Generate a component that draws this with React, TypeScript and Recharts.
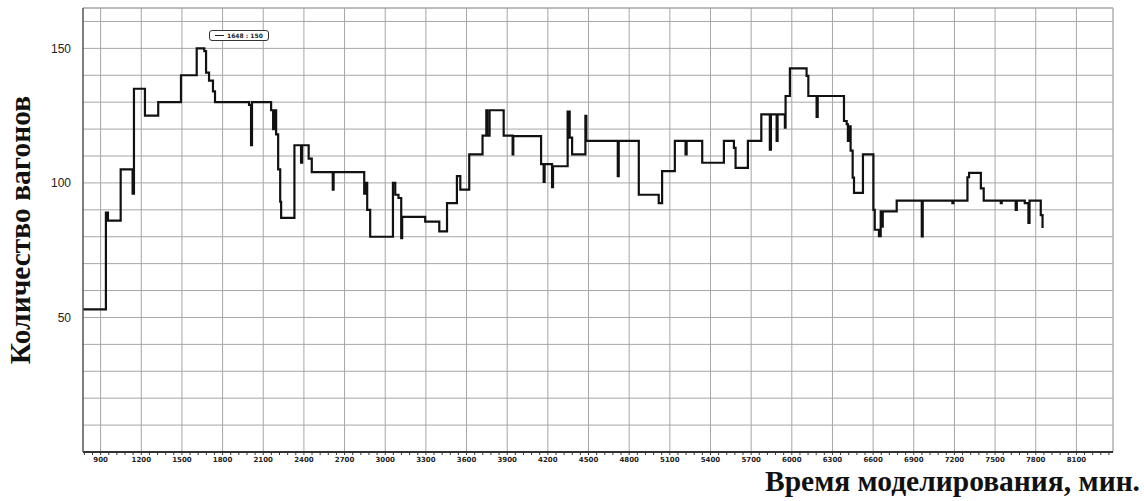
import { LineChart, Line, XAxis, YAxis, CartesianGrid, ReferenceLine, Legend } from "recharts";

// modelling time, min (each point starts a new step)
const times = [
  770, 939, 954, 1048, 1136, 1146, 1227, 1325, 1493, 1609, 1665, 1678, 1700, 1729, 1744,
  1995, 2010, 2017, 2158, 2173, 2180, 2195, 2210, 2225, 2232, 2330, 2379, 2387, 2435, 2458,
  2613, 2619, 2845, 2852, 2867, 2889, 3057, 3074, 3098, 3118, 3125, 3295, 3399, 3456, 3529,
  3554, 3620, 3718, 3746, 3753, 3770, 3874, 3940, 3945, 4150, 4169, 4176, 4231, 4238, 4346,
  4361, 4379, 4477, 4484, 4716, 4723, 4871, 5018, 5043, 5137, 5216, 5224, 5339, 5499, 5573,
  5585, 5676, 5775, 5838, 5846, 5888, 5895, 5949, 5954, 5986, 6109, 6122, 6183, 6191, 6385,
  6405, 6414, 6422, 6434, 6449, 6459, 6525, 6602, 6612, 6643, 6656, 6664, 6671, 6774, 6959,
  6966, 7185, 7193, 7296, 7308, 7395, 7416, 7542, 7549, 7652, 7660, 7719, 7746, 7754, 7837,
  7850,
];

// number of wagons
const wagons = [
  53, 89, 86, 105, 96, 135, 125, 130, 140, 150, 149, 141, 138, 134, 130,
  129, 114, 130, 127, 120, 127, 118, 105, 93, 87, 114, 107.5, 114, 109, 104,
  97.5, 104, 96, 100, 90, 80, 100, 95.6, 94.4, 79.5, 87.4, 85.6, 82, 92.5, 102.5,
  97.5, 110.6, 117.6, 127, 117.6, 127, 117.6, 110.6, 117.4, 107, 100.4, 107, 98.4, 106.2, 126.5,
  116.8, 110.6, 124.9, 115.6, 102.5, 115.6, 95.6, 92.5, 104.4, 115.6, 110.6, 115.6, 107.5, 115.6, 113,
  105.6, 115.6, 125.5, 112.4, 125.5, 115.6, 125.5, 120.5, 132.3, 142.6, 139.8, 132.3, 124.5, 132.3, 123,
  121.8, 115.6, 121, 112, 102, 96.3, 110.6, 90, 82.6, 80.2, 89.4, 83.7, 89.4, 93.4, 80.1,
  93.4, 92.5, 93.4, 102.1, 103.7, 98, 93.4, 92.5, 93.4, 90, 93.4, 92.5, 85.1, 93.4, 88,
  83.2,
];

const majorX = [900, 1200, 1500, 1800, 2100, 2400, 2700, 3000, 3300, 3600, 3900, 4200, 4500, 4800, 5100, 5400, 5700, 6000, 6300, 6600, 6900, 7200, 7500, 7800, 8100];
const minorX = [780, 840, 960, 1020, 1080, 1140, 1260, 1320, 1380, 1440, 1560, 1620, 1680, 1740, 1860, 1920, 1980, 2040, 2160, 2220, 2280, 2340, 2460, 2520, 2580, 2640, 2760, 2820, 2880, 2940, 3060, 3120, 3180, 3240, 3360, 3420, 3480, 3540, 3660, 3720, 3780, 3840, 3960, 4020, 4080, 4140, 4260, 4320, 4380, 4440, 4560, 4620, 4680, 4740, 4860, 4920, 4980, 5040, 5160, 5220, 5280, 5340, 5460, 5520, 5580, 5640, 5760, 5820, 5880, 5940, 6060, 6120, 6180, 6240, 6360, 6420, 6480, 6540, 6660, 6720, 6780, 6840, 6960, 7020, 7080, 7140, 7260, 7320, 7380, 7440, 7560, 7620, 7680, 7740, 7860, 7920, 7980, 8040, 8160, 8220, 8280, 8340];
const yGrid = [0, 10, 20, 30, 40, 50, 60, 70, 80, 90, 100, 110, 120, 130, 140, 150, 160];
const yLabels = [50, 100, 150];
const xDomain = [770, 8370];
const yDomain = [0, 165];

const data = times.map((t, i) => ({ t, v: wagons[i] }));
const allXTicks = [...majorX, ...minorX].sort((a, b) => a - b);

const titleFont = '"Liberation Serif", "Times New Roman", serif';

export default function App() {
  return (
    <div style={{ position: "absolute", left: 0, top: 0, width: 1144, height: 501, background: "#fff" }}>
      <LineChart width={1144} height={501} data={data} margin={{ top: 8, right: 31, left: 0, bottom: 0 }}>
        <CartesianGrid stroke="#a6a6a6" strokeWidth={1} vertical={false} horizontalValues={yGrid} />
        {majorX.map((x) => (
          <ReferenceLine key={x} x={x} stroke="#a6a6a6" strokeWidth={1} ifOverflow="visible" />
        ))}
        <ReferenceLine y={165} stroke="#a6a6a6" strokeWidth={1.5} />
        <ReferenceLine x={8370} stroke="#b0b0b0" strokeWidth={1.5} />
        <XAxis
          dataKey="t"
          type="number"
          domain={xDomain}
          ticks={allXTicks}
          interval={0}
          allowDataOverflow
          height={49}
          stroke="#333"
          axisLine={{ stroke: "#333", strokeWidth: 2 }}
          tickLine={{ stroke: "#333" }}
          tickSize={3}
          tickMargin={2}
          tick={{ fontSize: 7, fontWeight: 700, fill: "#222", fontFamily: "DejaVu Sans" }}
          tickFormatter={(v: number) => (majorX.includes(v) ? String(v) : "")}
        />
        <YAxis
          type="number"
          domain={yDomain}
          ticks={yGrid}
          interval={0}
          width={83}
          axisLine={{ stroke: "#555", strokeWidth: 1.5 }}
          tickLine={false}
          tickMargin={6}
          tick={{ fontSize: 12, fill: "#222", fontFamily: '"Liberation Sans", Arial' }}
          tickFormatter={(v: number) => (yLabels.includes(v) ? String(v) : "")}
        />
        <Legend
          verticalAlign="middle"
          align="center"
          layout="horizontal"
          wrapperStyle={{ position: "absolute", top: 30, left: 209, width: "auto", height: "auto" }}
          content={() => (
            <div
              style={{
                display: "flex",
                alignItems: "center",
                gap: 3,
                border: "1.5px solid #333",
                borderRadius: 3,
                padding: "0px 5px",
                height: 9,
                fontSize: 6,
                fontWeight: 700,
                fontFamily: "DejaVu Sans",
                color: "#222",
                background: "#fff",
              }}
            >
              <span style={{ display: "inline-block", width: 9, borderTop: "1px solid #222" }} />
              <span>1648 : 150</span>
            </div>
          )}
        />
        <Line
          type="stepAfter"
          dataKey="v"
          stroke="#111"
          strokeWidth={2.2}
          dot={false}
          activeDot={false}
          isAnimationActive={false}
        />
      </LineChart>
      <div
        style={{
          position: "absolute",
          left: 20,
          top: 230,
          transform: "translate(-50%, -50%) rotate(-90deg)",
          whiteSpace: "nowrap",
          fontFamily: titleFont,
          fontWeight: 700,
          fontSize: 29.5,
          color: "#111",
        }}
      >
        Количество вагонов
      </div>
      <div
        style={{
          position: "absolute",
          right: 4,
          top: 472,
          lineHeight: 0.65,
          whiteSpace: "nowrap",
          fontFamily: titleFont,
          fontWeight: 700,
          fontSize: 29.5,
          color: "#111",
        }}
      >
        Время моделирования, мин.
      </div>
    </div>
  );
}
